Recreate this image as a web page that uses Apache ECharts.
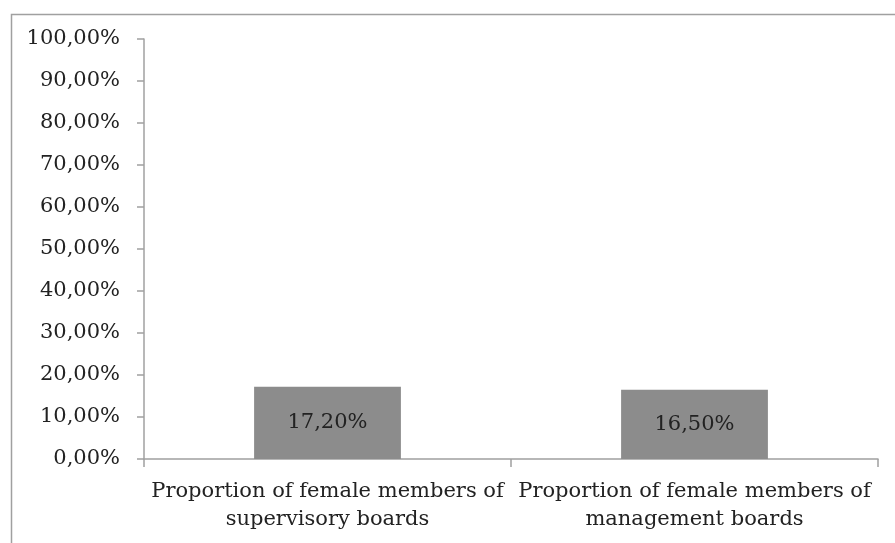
<!DOCTYPE html>
<html><head><meta charset="utf-8">
<script src="https://cdn.jsdelivr.net/npm/echarts@6/dist/echarts.min.js"></script>
<style>html,body{margin:0;padding:0;background:#fff}#c{width:895px;height:543px}</style>
</head><body><div id="c"></div>
<script>
const categories = ["Proportion of female members of\nsupervisory boards", "Proportion of female members of\nmanagement boards"];
const values = [17.2, 16.5];
const yTicks = [0, 10, 20, 30, 40, 50, 60, 70, 80, 90, 100];

const fmt = v => v.toFixed(2).replace('.', ',') + '%';
const FONT = 'DejaVu Serif';
const FS = 21;
const chart = echarts.init(document.getElementById('c'), null, {renderer: 'canvas'});
chart.setOption({
  animation: false,
  backgroundColor: '#fff',
  graphic: [{
    type: 'rect', left: 9, top: 12, silent: true,
    shape: {x: 0, y: 0, width: 900, height: 560},
    style: {fill: 'none', stroke: '#a0a0a0', lineWidth: 1.5}
  }],
  grid: {left: 144, right: 17, top: 39, bottom: 84, containLabel: false},
  xAxis: {
    type: 'category', data: categories,
    axisLine: {lineStyle: {color: '#a0a0a0', width: 1.5}},
    axisTick: {show: true, length: 8, lineStyle: {color: '#a0a0a0', width: 1.5}},
    axisLabel: {interval: 0, hideOverlap: false, fontFamily: FONT, fontSize: FS, color: '#222', lineHeight: 28, margin: 19}
  },
  yAxis: {
    type: 'value', min: yTicks[0], max: yTicks[yTicks.length - 1], interval: 10,
    splitLine: {show: false},
    axisLine: {show: true, lineStyle: {color: '#a0a0a0', width: 1.5}},
    axisTick: {show: true, length: 7, lineStyle: {color: '#a0a0a0', width: 1.5}},
    axisLabel: {fontFamily: FONT, fontSize: FS, color: '#222', margin: 24, formatter: v => fmt(v)}
  },
  series: [{
    type: 'bar', data: values, barWidth: '40%',
    itemStyle: {color: '#8c8c8c'},
    label: {show: true, position: 'inside', fontFamily: FONT, fontSize: FS, color: '#222', formatter: p => fmt(p.value)}
  }]
});
</script></body></html>
